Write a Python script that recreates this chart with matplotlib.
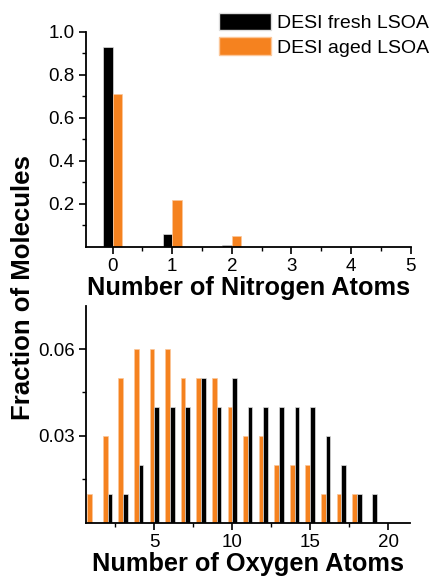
import numpy as np
import matplotlib
matplotlib.use("Agg")
import matplotlib.pyplot as plt
from matplotlib.patches import Patch

plt.rcParams['font.family'] = ['Liberation Sans', 'DejaVu Sans']

# nitrogen atoms
n_atoms = [0, 1, 2]
n_fresh = [0.93, 0.06, 0.01]
n_aged = [0.71, 0.22, 0.05]

# oxygen atoms
o_atoms_aged = list(range(1, 19))
o_aged = [0.01, 0.03, 0.05, 0.06, 0.06, 0.06, 0.05, 0.05, 0.05, 0.04,
          0.03, 0.03, 0.02, 0.02, 0.02, 0.01, 0.01, 0.01]
o_atoms_fresh = list(range(2, 20))
o_fresh = [0.01, 0.01, 0.02, 0.04, 0.04, 0.04, 0.05, 0.04, 0.05, 0.04,
           0.04, 0.04, 0.04, 0.04, 0.03, 0.02, 0.01, 0.01]

black = 'black'
orange = '#F5821F'

fig = plt.figure(figsize=(4.31, 5.78), dpi=100)
ax1 = fig.add_axes([0.199, 0.573, 0.754, 0.372])
ax2 = fig.add_axes([0.199, 0.096, 0.752, 0.375])

w1 = 0.16
ax1.bar(np.array(n_atoms) - w1 / 2, n_fresh, width=w1, color=black,
        edgecolor='#dddddd', linewidth=0.5)
ax1.bar(np.array(n_atoms) + w1 / 2, n_aged, width=w1, color=orange,
        edgecolor='#fbc79a', linewidth=0.5)
ax1.set_xlim(-0.45, 5)
ax1.set_ylim(0, 1.0)
ax1.set_xticks(range(0, 6))
ax1.set_xticks(np.arange(0.5, 5, 1), minor=True)
ax1.set_yticks([0.2, 0.4, 0.6, 0.8, 1.0])
ax1.set_yticks([0.1, 0.3, 0.5, 0.7, 0.9], minor=True)
ax1.set_xlabel('Number of Nitrogen Atoms', fontsize=18.3, fontweight='bold',
               labelpad=1)

w2 = 0.3
ax2.bar(np.array(o_atoms_aged) - w2 / 2, o_aged, width=w2, color=orange,
        edgecolor='#fbc79a', linewidth=0.5)
ax2.bar(np.array(o_atoms_fresh) + w2 / 2, o_fresh, width=w2, color=black,
        edgecolor='#dddddd', linewidth=0.5)
ax2.set_xlim(0.6, 21.4)
ax2.set_ylim(0, 0.075)
ax2.set_xticks([5, 10, 15, 20])
ax2.set_xticks([2.5, 7.5, 12.5, 17.5], minor=True)
ax2.set_yticks([0.03, 0.06])
ax2.set_yticks([0.015, 0.045], minor=True)
ax2.set_xlabel('Number of Oxygen Atoms', fontsize=18.3, fontweight='bold',
               labelpad=1)

for ax in (ax1, ax2):
    for s in ('top', 'right'):
        ax.spines[s].set_visible(False)
    for s in ('left', 'bottom'):
        ax.spines[s].set_linewidth(1.3)
    ax.tick_params(which='major', direction='out', length=5, width=1.2,
                   labelsize=13.5, pad=3)
    ax.tick_params(which='minor', direction='out', length=3, width=1.0)

fig.text(0.054, 0.503, 'Fraction of Molecules', rotation=90, fontsize=18.5,
         fontweight='bold', ha='center', va='center')

handles = [Patch(facecolor=black, edgecolor='#dddddd'),
           Patch(facecolor=orange, edgecolor='#fbc79a')]
fig.legend(handles, ['DESI fresh LSOA', 'DESI aged LSOA'], loc='upper left',
           bbox_to_anchor=(219 / 431, 1 - 13 / 578), frameon=False,
           fontsize=14, handlelength=2.7, handleheight=1.0,
           handletextpad=0.3, labelspacing=0.25, borderpad=0,
           borderaxespad=0)

fig.savefig('out.png', dpi=100)
